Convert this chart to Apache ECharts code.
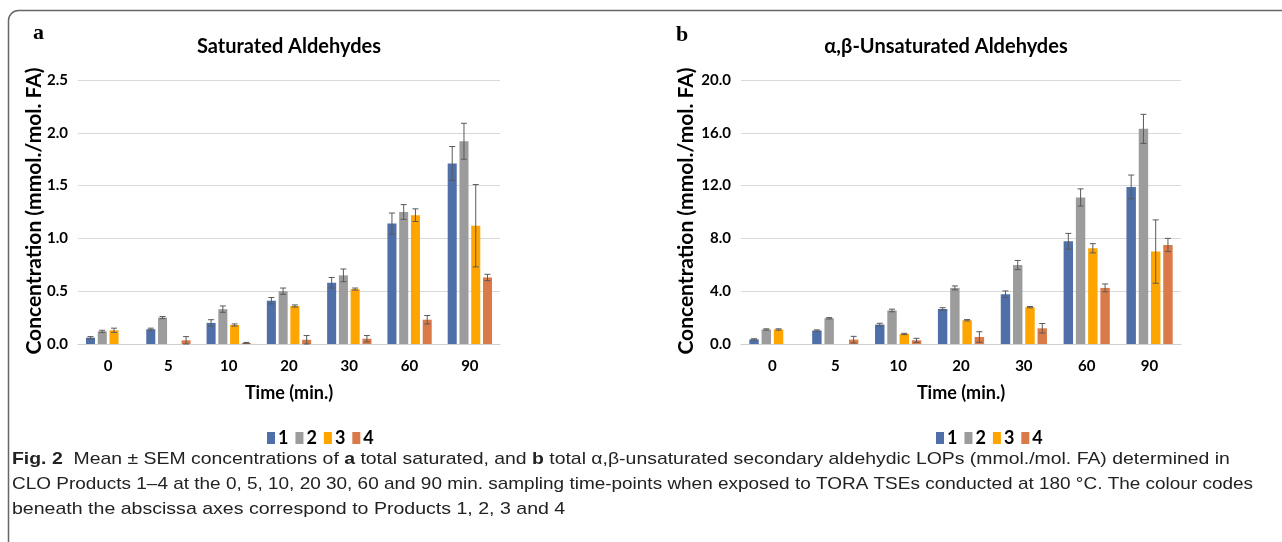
<!DOCTYPE html>
<html><head><meta charset="utf-8">
<script src="https://cdn.jsdelivr.net/npm/echarts@6/dist/echarts.min.js"></script>
<style>html,body{margin:0;padding:0;background:#fff}#c{width:1282px;height:542px}</style>
</head><body><div id="c"></div>
<script>
const categories = ['0','5','10','20','30','60','90'];
const productNames = ['1','2','3','4'];
// Saturated aldehydes (mmol./mol. FA)
const satP1 = [0.06, 0.14, 0.20, 0.41, 0.58, 1.14, 1.71];
const satP2 = [0.12, 0.25, 0.33, 0.50, 0.65, 1.25, 1.92];
const satP3 = [0.13, null, 0.18, 0.36, 0.52, 1.22, 1.12];
const satP4 = [null, 0.035, 0.01, 0.04, 0.05, 0.23, 0.63];
const satE1 = [0.01, 0.01, 0.03, 0.03, 0.05, 0.10, 0.16];
const satE2 = [0.01, 0.01, 0.03, 0.03, 0.06, 0.07, 0.17];
const satE3 = [0.02, null, 0.01, 0.01, 0.01, 0.06, 0.39];
const satE4 = [null, 0.035, 0.005, 0.04, 0.03, 0.04, 0.03];
// alpha,beta-unsaturated aldehydes
const unsP1 = [0.35, 1.02, 1.47, 2.65, 3.77, 7.78, 11.9];
const unsP2 = [1.10, 1.95, 2.54, 4.25, 5.98, 11.1, 16.3];
const unsP3 = [1.10, null, 0.76, 1.80, 2.79, 7.25, 7.0];
const unsP4 = [null, 0.33, 0.28, 0.53, 1.19, 4.25, 7.5];
const unsE1 = [0.05, 0.05, 0.10, 0.10, 0.25, 0.60, 0.90];
const unsE2 = [0.05, 0.05, 0.10, 0.15, 0.35, 0.65, 1.10];
const unsE3 = [0.05, null, 0.05, 0.05, 0.05, 0.35, 2.40];
const unsE4 = [null, 0.25, 0.15, 0.40, 0.36, 0.30, 0.50];
const satTicks = {min: 0, max: 2.5, interval: 0.5};
const unsTicks = {min: 0, max: 20, interval: 4};

const colors = ['#4f6fa8', '#9c9c9c', '#ffa500', '#d97a48'];
const BW = 0.15, GAP = 0.3;
const F = 'Lato, "Open Sans", sans-serif';

const chart = echarts.init(document.getElementById('c'));

function barSeries(vals, k, gi) {
  return {type: 'bar', name: productNames[k], xAxisIndex: gi, yAxisIndex: gi,
    data: vals, barWidth: (BW * 100) + '%', barGap: (GAP * 100) + '%',
    itemStyle: {color: colors[k]}, animation: false};
}
function errSeries(vals, errs, k, gi) {
  const data = [];
  vals.forEach((v, i) => { if (v != null && errs[i] != null) data.push([i, v, errs[i]]); });
  return {type: 'custom', xAxisIndex: gi, yAxisIndex: gi, z: 5, silent: true, animation: false,
    data: data,
    renderItem: function (params, api) {
      const ci = api.value(0), v = api.value(1), e = api.value(2);
      const band = api.size([1, 0])[0];
      const bw = band * BW, gap = bw * GAP;
      const x = api.coord([ci, v])[0] + (k - 1.5) * (bw + gap);
      const yt = api.coord([ci, v + e])[1];
      const yb = api.coord([ci, Math.max(v - e, 0)])[1];
      const cw = 3;
      const st = {stroke: '#5a5a5a', lineWidth: 1};
      return {type: 'group', children: [
        {type: 'line', shape: {x1: x, y1: yt, x2: x, y2: yb}, style: st},
        {type: 'line', shape: {x1: x - cw, y1: yt, x2: x + cw, y2: yt}, style: st},
        {type: 'line', shape: {x1: x - cw, y1: yb, x2: x + cw, y2: yb}, style: st}
      ]};
    }};
}

const labelStyle = {color: '#000', fontFamily: F, fontWeight: 'bold', fontSize: 15};
function xAx(gi) {
  return {type: 'category', gridIndex: gi, data: categories,
    axisLine: {lineStyle: {color: '#d0d0d0', width: 1}}, axisTick: {show: false},
    axisLabel: Object.assign({margin: 15}, labelStyle)};
}
function yAx(gi, t, dec) {
  return {type: 'value', gridIndex: gi, min: t.min, max: t.max, interval: t.interval,
    axisLine: {show: false}, axisTick: {show: false},
    splitLine: {lineStyle: {color: '#d9d9d9', width: 1}},
    axisLabel: Object.assign({margin: 10, formatter: v => v.toFixed(dec)}, labelStyle)};
}

const series = [];
[satP1, satP2, satP3, satP4].forEach((v, k) => series.push(barSeries(v, k, 0)));
[unsP1, unsP2, unsP3, unsP4].forEach((v, k) => series.push(barSeries(v, k, 1)));
[[satP1, satE1], [satP2, satE2], [satP3, satE3], [satP4, satE4]].forEach((p, k) => series.push(errSeries(p[0], p[1], k, 0)));
[[unsP1, unsE1], [unsP2, unsE2], [unsP3, unsE3], [unsP4, unsE4]].forEach((p, k) => series.push(errSeries(p[0], p[1], k, 1)));

function legend(left) {
  return {data: productNames, left: left, top: 424, itemWidth: 8, itemHeight: 12, itemGap: 7,
    icon: 'rect', selectedMode: false,
    textStyle: {color: '#000', fontFamily: F, fontWeight: 'bold', fontSize: 18, padding: [0, 0, 0, -2]}};
}

const capStyle = {fontFamily: '"Liberation Sans Narrow", "Liberation Sans", sans-serif', fontSize: 17, fill: '#222'};
const capBold = {fontWeight: 'bold'};

chart.setOption({
  animation: false,
  grid: [
    {left: 78, right: 782, top: 80, bottom: 198},
    {left: 741, right: 101, top: 80, bottom: 198}
  ],
  xAxis: [xAx(0), xAx(1)],
  yAxis: [yAx(0, satTicks, 1), yAx(1, unsTicks, 1)],
  legend: [legend(262), legend(931)],
  series: series,
  graphic: [
    {type: 'rect', shape: {x: 8.5, y: 10.5, width: 1300, height: 560, r: 10}, style: {fill: 'none', stroke: '#666', lineWidth: 1.5}},
    {type: 'text', x: 33, y: 22, style: {text: 'a', fontFamily: '"Liberation Serif", serif', fontWeight: 'bold', fontSize: 22, fill: '#000'}},
    {type: 'text', x: 676, y: 24, style: {text: 'b', fontFamily: '"Liberation Serif", serif', fontWeight: 'bold', fontSize: 22, fill: '#000'}},
    {type: 'text', x: 289, y: 47, style: {text: 'Saturated Aldehydes', fontFamily: F, fontWeight: 'bold', fontSize: 20, fill: '#000', align: 'center', verticalAlign: 'middle'}},
    {type: 'text', x: 946, y: 47, style: {text: 'α,β-Unsaturated Aldehydes', fontFamily: F, fontWeight: 'bold', fontSize: 20, fill: '#000', align: 'center', verticalAlign: 'middle'}},
    {type: 'text', x: 34, y: 211, rotation: Math.PI / 2, style: {text: 'Concentration (mmol./mol. FA)', fontFamily: F, fontWeight: 'bold', fontSize: 21, fill: '#000', align: 'center', verticalAlign: 'middle'}},
    {type: 'text', x: 686, y: 211, rotation: Math.PI / 2, style: {text: 'Concentration (mmol./mol. FA)', fontFamily: F, fontWeight: 'bold', fontSize: 21, fill: '#000', align: 'center', verticalAlign: 'middle'}},
    {type: 'text', x: 289, y: 393, style: {text: 'Time (min.)', fontFamily: F, fontWeight: 'bold', fontSize: 18, fill: '#000', align: 'center', verticalAlign: 'middle'}},
    {type: 'text', x: 961, y: 393, style: {text: 'Time (min.)', fontFamily: F, fontWeight: 'bold', fontSize: 18, fill: '#000', align: 'center', verticalAlign: 'middle'}},
    {type: 'text', x: 12, y: 459, scaleX: 1.142, style: Object.assign({verticalAlign: 'middle',
      text: '{b|Fig. 2}  Mean ± SEM concentrations of {b|a} total saturated, and {b|b} total α,β-unsaturated secondary aldehydic LOPs (mmol./mol. FA) determined in',
      rich: {b: Object.assign({}, capStyle, capBold)}}, capStyle)},
    {type: 'text', x: 12, y: 484, scaleX: 1.115, style: Object.assign({verticalAlign: 'middle',
      text: 'CLO Products 1–4 at the 0, 5, 10, 20 30, 60 and 90 min. sampling time-points when exposed to TORA TSEs conducted at 180 °C. The colour codes'}, capStyle)},
    {type: 'text', x: 12, y: 509, scaleX: 1.15, style: Object.assign({verticalAlign: 'middle',
      text: 'beneath the abscissa axes correspond to Products 1, 2, 3 and 4'}, capStyle)}
  ]
});
</script></body></html>
